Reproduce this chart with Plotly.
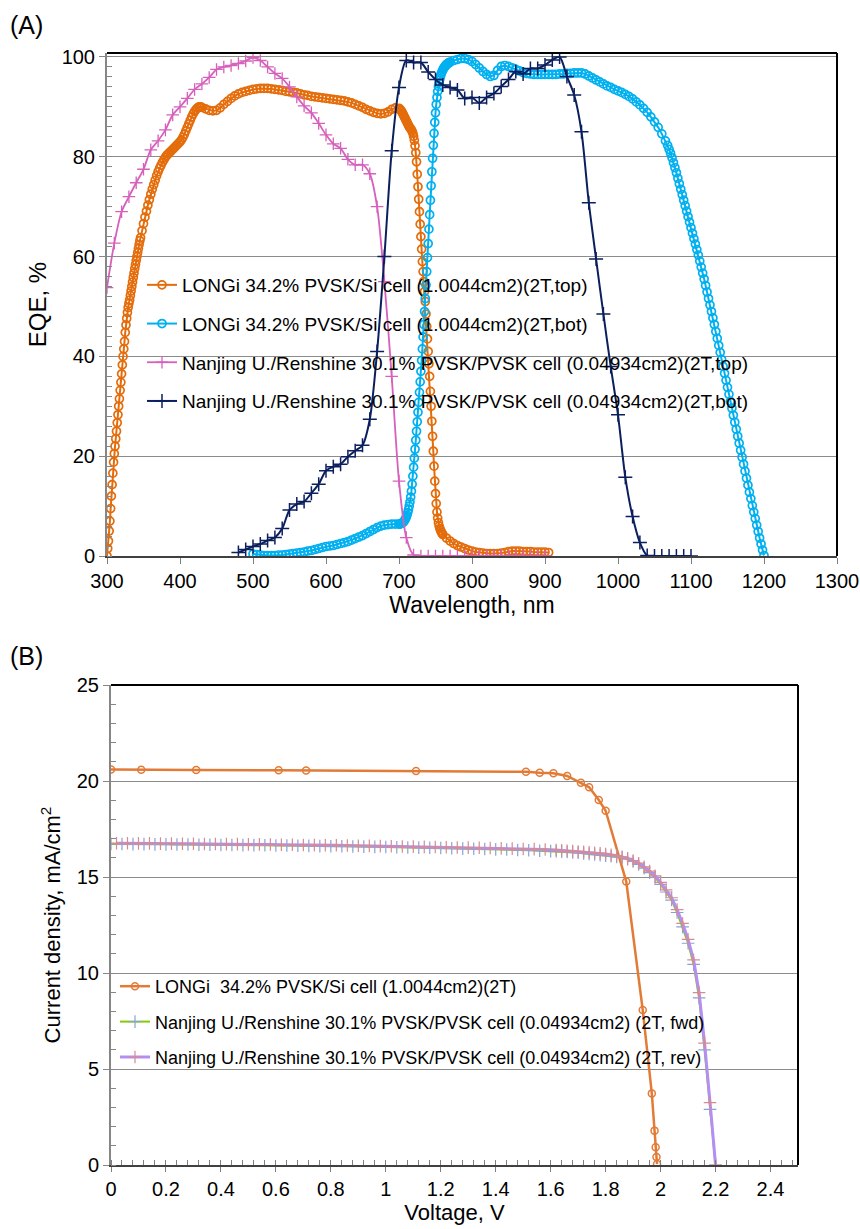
import plotly.graph_objects as go

# ---------------- Panel A : EQE ----------------
wl_longi_top = (list(range(300, 346)) + list(range(346, 431, 2)) + list(range(435, 696, 5))
                + list(range(700, 761)) + list(range(765, 906, 5)))
eqe_longi_top = (
    [0, 1.5, 3, 5, 7, 9.5, 12, 14.3, 16.6, 18.8,
     20.5, 22, 23.5, 25, 26.7, 28.3, 30, 31.5, 33.2, 34.8,
     36.5, 38.3, 40, 41.5, 43, 44.8, 46.3, 47.6, 48.8, 49.8,
     50.6, 51.3, 52.2, 53.1, 54, 54.9, 55.8, 56.7, 57.6, 58.4,
     59.2, 60, 60.8, 61.6, 62.4, 63.2]
    + [63.8, 65.2, 66.6, 67.9, 69.1, 70.3, 71.4, 72.5, 73.5, 74.4,
       75.3, 76.2, 77.0, 77.7, 78.3, 78.9, 79.4, 79.9, 80.3, 80.6,
       80.9, 81.2, 81.5, 81.8, 82.1, 82.4, 82.7, 83.0, 83.4, 83.9,
       84.5, 85.2, 85.9, 86.6, 87.3, 88.0, 88.6, 89.1, 89.5, 89.8,
       90.0, 90.0, 89.9]
    + [89.6, 89.3, 89.2, 89.3, 89.8, 90.5, 91.1, 91.7, 92.2, 92.6,
       92.9, 93.1, 93.3, 93.5, 93.6, 93.7, 93.7, 93.7, 93.6, 93.5,
       93.4, 93.3, 93.1, 93.0, 92.9, 92.8, 92.6, 92.4, 92.3, 92.1,
       92.0, 91.9, 91.8, 91.7, 91.6, 91.5, 91.4, 91.3, 91.2, 91.0,
       90.8, 90.5, 90.2, 89.9, 89.5, 89.2, 88.9, 88.7, 88.6, 88.7,
       89.0, 89.5, 89.8]
    + [89.7, 89.6, 89.4, 89.2, 89.0, 88.7, 88.4, 88.1, 87.8, 87.5,
       87.2, 86.9, 86.6, 86.3, 86.0, 85.8, 85.6, 85.4, 85.1, 84.7,
       84.1, 83.3, 82.2, 80.8, 79.0, 76.5, 74.0, 71.5, 69.0, 66.5,
       64.0, 61.5, 59.0, 57.0, 55.0, 53.0, 51.0, 48.5, 46.0, 43.5,
       41.0, 38.5, 36.0, 33.0, 30.0, 27.0, 24.0, 21.0, 18.0, 15.0,
       12.5, 10.5, 8.8, 7.6, 6.7, 6.0, 5.5, 5.1, 4.8, 4.5,
       4.3]
    + [3.6, 3.0, 2.5, 2.1, 1.8, 1.5, 1.2, 1.0, 0.8, 0.7,
       0.6, 0.5, 0.5, 0.5, 0.5, 0.6, 0.7, 0.9, 1.0, 1.0,
       1.0, 0.9, 0.9, 0.9, 0.8, 0.8, 0.8, 0.8, 0.7]
)

wl_longi_bot = (list(range(500, 701, 5)) + list(range(701, 771)) + list(range(775, 1066, 5))
                + list(range(1068, 1201, 2)))
eqe_longi_bot = (
    [0.4, 0.3, 0.2, 0.1, 0.1, 0.1, 0.1, 0.2, 0.2, 0.3,
     0.4, 0.5, 0.6, 0.7, 0.8, 1.0, 1.1, 1.3, 1.5, 1.7,
     1.9, 2.0, 2.1, 2.3, 2.5, 2.7, 2.9, 3.2, 3.5, 3.8,
     4.1, 4.5, 4.9, 5.3, 5.7, 6.0, 6.2, 6.3, 6.4, 6.4,
     6.4]
    + [6.4, 6.5, 6.5, 6.6, 6.7, 6.8, 7.0, 7.2, 7.5, 7.8,
       8.2, 8.7, 9.3, 10.0, 10.8, 11.8, 13.0, 14.4, 16.0, 17.8,
       19.6, 21.4, 23.2, 25.0, 26.9, 28.8, 30.8, 32.8, 34.9, 37.0,
       39.2, 41.5, 43.9, 46.4, 49.0, 51.6, 54.3, 57.0, 59.8, 62.6,
       65.5, 68.4, 71.3, 74.2, 77.0, 79.7, 82.3, 84.7, 86.9, 88.8,
       90.5, 91.9, 93.1, 94.1, 94.9, 95.6, 96.2, 96.7, 97.1, 97.4,
       97.7, 97.9, 98.1, 98.3, 98.5, 98.6, 98.7, 98.8, 98.9, 99.0]
    + [99.3, 99.5, 99.7, 99.7, 99.5, 99.1, 98.5, 97.8, 97.1, 96.5,
       96.1, 96.3, 97.3, 98.1, 98.3, 98.1, 97.8, 97.5, 97.2, 96.9,
       96.7, 96.6, 96.5, 96.5, 96.5, 96.5, 96.5, 96.5, 96.5, 96.6,
       96.6, 96.7, 96.7, 96.8, 96.8, 96.8, 96.6, 96.2, 95.8, 95.4,
       95.0, 94.6, 94.2, 93.9, 93.5, 93.2, 92.9, 92.5, 92.1, 91.6,
       91.0, 90.4, 89.7, 88.9, 88.0, 87.0, 85.9, 84.6, 83.2]
    + [82.3, 81.5, 80.7, 79.8, 78.8, 77.8, 76.8, 75.7, 74.6, 73.5,
       72.4, 71.3, 70.2, 69.1, 68.0, 66.9, 65.8, 64.7, 63.6, 62.5,
       61.4, 60.3, 59.1, 57.9, 56.7, 55.5, 54.2, 52.9, 51.6, 50.3,
       49.0, 47.7, 46.4, 45.0, 43.6, 42.2, 40.8, 39.4, 38.0, 36.6,
       35.2, 33.8, 32.4, 31.0, 29.6, 28.2, 26.8, 25.4, 24.0, 22.6,
       21.2, 19.8, 18.4, 17.0, 15.6, 14.2, 12.8, 11.5, 10.1, 8.8,
       7.5, 6.2, 4.9, 3.6, 2.4, 1.2, 0.1]
)

wl_nj_top = list(range(300, 901, 10))
eqe_nj_top = [53.8, 62.7, 69.0, 72.0, 74.8, 77.5, 81.4, 83.2, 85.4, 88.4,
              90.0, 91.7, 93.5, 94.6, 95.9, 97.5, 98.0, 98.3, 98.7, 99.2,
              99.9, 99.3, 98.0, 96.7, 95.7, 94.0, 92.0, 90.2, 88.8, 86.7,
              84.4, 82.6, 81.7, 79.5, 78.4, 78.4, 76.6, 70.0, 55.0, 36.0,
              15.0, 3.7, 0.2, 0, 0, 0, 0, 0, 0, 0,
              0, 0, 0, 0, 0, 0, 0, 0, 0, 0,
              0]

wl_nj_bot = list(range(480, 1101, 10))
eqe_nj_bot = [0.7, 1.3, 1.9, 2.4, 3.1, 3.7, 5.5, 9.2, 10.4, 10.9,
              12.6, 14.4, 17.1, 17.9, 18.4, 19.9, 21.1, 22.2, 27.4, 41.0,
              60.0, 81.2, 93.9, 99.3, 98.9, 98.9, 97.0, 95.5, 94.4, 93.9,
              93.4, 91.7, 91.9, 90.8, 91.9, 92.7, 94.1, 95.5, 97.1, 96.6,
              97.7, 97.7, 98.4, 99.4, 100.0, 96.1, 92.4, 85.0, 70.8, 59.5,
              48.5, 38.0, 28.3, 15.8, 7.9, 2.7, 0.1, 0, 0, 0,
              0, 0, 0]

names_a = ["LONGi 34.2% PVSK/Si cell (1.0044cm2)(2T,top)",
           "LONGi 34.2% PVSK/Si cell (1.0044cm2)(2T,bot)",
           "Nanjing U./Renshine 30.1% PVSK/PVSK cell (0.04934cm2)(2T,top)",
           "Nanjing U./Renshine 30.1% PVSK/PVSK cell (0.04934cm2)(2T,bot)"]

# ---------------- Panel B : J-V ----------------
v_longi = [0, 0.11, 0.31, 0.61, 0.71, 1.11, 1.51, 1.56, 1.61, 1.66, 1.71, 1.74,
           1.775, 1.80, 1.875, 1.935, 1.968, 1.978, 1.982, 1.985, 1.987]
j_longi = [20.6, 20.58, 20.57, 20.56, 20.55, 20.52, 20.48, 20.43, 20.40, 20.26, 19.91, 19.67,
           19.01, 18.45, 14.76, 8.07, 3.73, 1.79, 0.92, 0.42, 0.05]

v_fwd = [i / 100 for i in range(0, 161, 4)] + [i / 100 for i in range(162, 221, 2)]
j_fwd = ([16.72, 16.72, 16.71, 16.71, 16.70, 16.70, 16.69, 16.69, 16.68, 16.68,
          16.67, 16.67, 16.66, 16.66, 16.65, 16.64, 16.64, 16.63, 16.62, 16.61,
          16.60, 16.60, 16.59, 16.58, 16.57, 16.56, 16.55, 16.54, 16.53, 16.52,
          16.51, 16.50, 16.48, 16.47, 16.46, 16.44, 16.43, 16.41, 16.39, 16.37,
          16.35]
         + [16.34, 16.32, 16.30, 16.28, 16.26, 16.23, 16.20, 16.17, 16.14, 16.11,
            16.08, 16.05, 16.01, 15.93, 15.81, 15.66, 15.46, 15.23, 14.98, 14.62,
            14.22, 13.80, 13.15, 12.40, 11.55, 10.45, 8.70, 6.00, 2.90, 0.0])

v_rev = [i / 100 for i in range(2, 163, 4)] + [i / 100 for i in range(164, 221, 2)]
j_rev = ([16.76, 16.76, 16.75, 16.75, 16.74, 16.74, 16.73, 16.73, 16.72, 16.72,
          16.71, 16.71, 16.70, 16.70, 16.69, 16.68, 16.68, 16.67, 16.66, 16.65,
          16.65, 16.64, 16.63, 16.62, 16.61, 16.60, 16.59, 16.58, 16.57, 16.56,
          16.55, 16.54, 16.53, 16.52, 16.51, 16.49, 16.48, 16.46, 16.45, 16.43,
          16.41]
         + [16.39, 16.37, 16.35, 16.33, 16.31, 16.29, 16.26, 16.23, 16.20, 16.16,
            16.11, 16.05, 15.97, 15.86, 15.72, 15.53, 15.31, 15.06, 14.72, 14.33,
            13.92, 13.30, 12.58, 11.75, 10.68, 8.98, 6.35, 3.25, 0.0])

names_b = ["LONGi\u00a0 34.2% PVSK/Si cell (1.0044cm2)(2T)",
           "Nanjing U./Renshine 30.1% PVSK/PVSK cell (0.04934cm2) (2T, fwd)",
           "Nanjing U./Renshine 30.1% PVSK/PVSK cell (0.04934cm2) (2T, rev)"]

FONT = "Liberation Sans, Arial, sans-serif"
W, H = 860, 1229

fig = go.Figure()

# Panel A traces
fig.add_trace(go.Scatter(x=wl_longi_top, y=eqe_longi_top, name=names_a[0], mode="lines+markers",
                         line=dict(color="#E46C0A", width=2),
                         marker=dict(symbol="circle-open", size=8, color="#E46C0A",
                                     line=dict(width=1.7, color="#E46C0A")),
                         xaxis="x", yaxis="y", legend="legend", legendgroup="a1"))
fig.add_trace(go.Scatter(x=wl_longi_bot, y=eqe_longi_bot, name=names_a[1], mode="lines+markers",
                         line=dict(color="#00B0F0", width=2),
                         marker=dict(symbol="circle-open", size=8, color="#00B0F0",
                                     line=dict(width=1.7, color="#00B0F0")),
                         xaxis="x", yaxis="y", legend="legend", legendgroup="a2"))
fig.add_trace(go.Scatter(x=wl_nj_top, y=eqe_nj_top, name=names_a[2], mode="lines+markers",
                         line=dict(color="#D660BC", width=1.8, shape="spline", smoothing=0.8),
                         marker=dict(symbol="cross-thin", size=9, color="#D660BC",
                                     line=dict(width=1.3, color="#D660BC")),
                         xaxis="x", yaxis="y", legend="legend", legendgroup="a3"))
fig.add_trace(go.Scatter(x=wl_nj_bot, y=eqe_nj_bot, name=names_a[3], mode="lines+markers",
                         line=dict(color="#0B1F5E", width=2, shape="spline", smoothing=0.8),
                         marker=dict(symbol="cross-thin", size=10, color="#0B1F5E",
                                     line=dict(width=1.5, color="#0B1F5E")),
                         xaxis="x", yaxis="y", legend="legend", legendgroup="a4"))

# Panel B traces
fig.add_trace(go.Scatter(x=v_longi, y=j_longi, name=names_b[0], mode="lines+markers",
                         line=dict(color="#E27B36", width=2.5),
                         marker=dict(symbol="circle-open", size=7, color="#E27B36",
                                     line=dict(width=1.5, color="#E27B36")),
                         xaxis="x2", yaxis="y2", legend="legend2", legendgroup="b1"))
fig.add_trace(go.Scatter(x=v_fwd, y=j_fwd, name=names_b[1], mode="lines+markers",
                         line=dict(color="#82CC00", width=2),
                         marker=dict(symbol="cross-thin", size=9, color="#86A3D8",
                                     line=dict(width=1.2, color="#86A3D8")),
                         xaxis="x2", yaxis="y2", legend="legend2", legendgroup="b2"))
fig.add_trace(go.Scatter(x=v_rev, y=j_rev, name=names_b[2], mode="lines+markers",
                         line=dict(color="#B48EF2", width=3),
                         marker=dict(symbol="cross-thin", size=9, color="#D98A8F",
                                     line=dict(width=1.2, color="#D98A8F")),
                         xaxis="x2", yaxis="y2", legend="legend2", legendgroup="b3"))

tickfont = dict(family=FONT, size=20, color="black")
common_axis = dict(showgrid=False, zeroline=False, tickfont=tickfont, ticks="outside",
                   automargin=False)

fig.update_layout(
    template="none",
    width=W, height=H, autosize=False,
    margin=dict(l=0, r=0, t=0, b=0, pad=0),
    paper_bgcolor="white", plot_bgcolor="white",
    font=dict(family=FONT, color="black"),
    xaxis=dict(domain=[107 / W, 837 / W], range=[300, 1300], tick0=300, dtick=100, anchor="y",
               showline=True, linecolor="#404040", linewidth=1.5, ticklen=6, tickcolor="#808080",
               title=dict(text="Wavelength, nm", font=dict(size=23), standoff=4),
               **common_axis),
    yaxis=dict(domain=[1 - 556 / H, 1 - 53 / H], range=[0, 100.8], tick0=0, dtick=20, anchor="x",
               showline=True, linecolor="#868686", linewidth=2, ticklen=6, tickcolor="#868686",
               showgrid=True, gridcolor="#8C8C8C", gridwidth=1, zeroline=False,
               tickfont=tickfont, ticks="outside", automargin=False,
               minor=dict(dtick=2, ticks="inside", ticklen=5, tickcolor="#868686", showgrid=False),
               title=dict(text="EQE, %", font=dict(size=24), standoff=8)),
    xaxis2=dict(domain=[111 / W, 798 / W], range=[0, 2.5], tick0=0, dtick=0.2, anchor="y2",
                showline=True, linecolor="#404040", linewidth=1.5, ticklen=5, tickcolor="#808080",
                minor=dict(dtick=0.04, ticks="inside", ticklen=5, tickcolor="#808080", showgrid=False),
                title=dict(text="Voltage, V", font=dict(size=22), standoff=4),
                **common_axis),
    yaxis2=dict(domain=[1 - 1165 / H, 1 - 685 / H], range=[0, 25], tick0=0, dtick=5, anchor="x2",
                showline=True, linecolor="#868686", linewidth=2, ticklen=6, tickcolor="#868686",
                showgrid=True, gridcolor="#8C8C8C", gridwidth=1, zeroline=False,
                tickfont=tickfont, ticks="outside", automargin=False,
                minor=dict(dtick=1, ticks="inside", ticklen=5, tickcolor="#868686", showgrid=False),
                title=dict(text="Current density, mA/cm<sup>2</sup>", font=dict(size=22), standoff=10)),
    legend=dict(x=142 / W, y=1 - 266 / H, xanchor="left", yanchor="top",
                font=dict(family=FONT, size=19, color="black"), bgcolor="rgba(0,0,0,0)",
                tracegroupgap=11, itemwidth=30),
    legend2=dict(x=115 / W, y=1 - 968 / H, xanchor="left", yanchor="top",
                 font=dict(family=FONT, size=18, color="black"), bgcolor="rgba(0,0,0,0)",
                 tracegroupgap=9, itemwidth=30),
    shapes=[
        dict(type="line", xref="x domain", yref="y domain", x0=0, x1=1, y0=1, y1=1,
             line=dict(color="black", width=2)),
        dict(type="line", xref="x domain", yref="y domain", x0=1, x1=1, y0=0, y1=1,
             line=dict(color="black", width=2)),
        dict(type="line", xref="x2 domain", yref="y2 domain", x0=0, x1=1, y0=1, y1=1,
             line=dict(color="black", width=2)),
        dict(type="line", xref="x2 domain", yref="y2 domain", x0=1, x1=1, y0=0, y1=1,
             line=dict(color="black", width=2)),
    ],
    annotations=[
        dict(text="(A)", x=8 / W, y=1 - 25 / H, xref="paper", yref="paper", xanchor="left",
             yanchor="middle", showarrow=False, font=dict(family=FONT, size=25, color="black")),
        dict(text="(B)", x=8 / W, y=1 - 656 / H, xref="paper", yref="paper", xanchor="left",
             yanchor="middle", showarrow=False, font=dict(family=FONT, size=25, color="black")),
    ],
)

fig.write_html("out.html", config={"displayModeBar": False},
               post_script="document.body.style.margin='0';document.body.style.overflow='hidden';")
